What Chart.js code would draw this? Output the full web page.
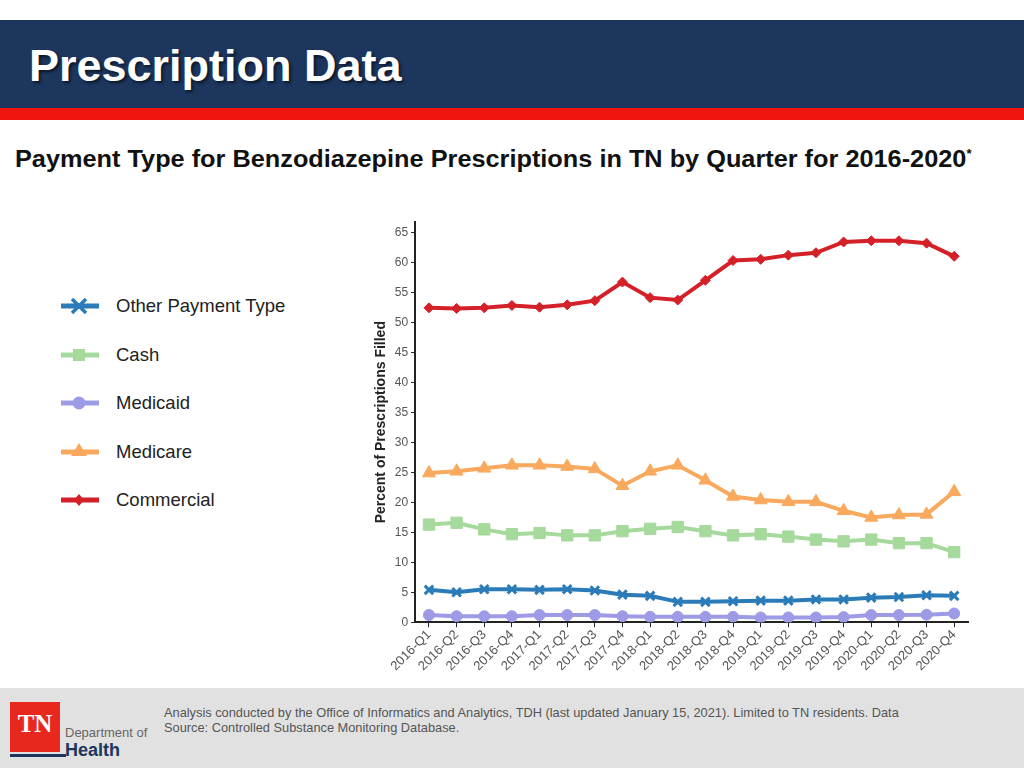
<!DOCTYPE html>
<html>
<head>
<meta charset="utf-8">
<script src="https://cdn.jsdelivr.net/npm/chart.js@4"></script>
<style>
  html, body { margin: 0; padding: 0; }
  body { width: 1024px; height: 768px; position: relative; overflow: hidden; background: #fff; font-family: "Liberation Sans", Arial, sans-serif; }
  .header { position: absolute; left: 0; top: 20px; width: 1024px; height: 88px; background: #1d365e; }
  .header h1 { position: absolute; left: 29px; top: 20px; margin: 0; color: #fff; font-size: 45px; font-weight: bold; text-shadow: 2px 2px 3px rgba(0,0,0,0.6); }
  .stripe { position: absolute; left: 0; top: 108px; width: 1024px; height: 12px; background: #f0150f; }
  .subtitle { position: absolute; left: 15px; top: 146px; margin: 0; font-size: 23px; font-weight: bold; color: #111; white-space: nowrap; transform: scaleX(1.1); transform-origin: left top; }
  .subtitle sup { font-size: 12px; }
  #legend { position: absolute; left: 60px; top: 282px; }
  .legend-item { height: 48.5px; display: flex; align-items: center; }
  .legend-item span { margin-left: 16px; font-size: 18.5px; color: #222; }
  #chartBox { position: absolute; left: 350px; top: 212px; width: 630px; height: 470px; }
  .footer { position: absolute; left: 0; top: 688px; width: 1024px; height: 80px; background: #e1e1e1; }
  .footnote { position: absolute; left: 164px; top: 17px; font-size: 12.8px; line-height: 15px; color: #555; white-space: nowrap; }
  .logo-box { position: absolute; left: 10px; top: 14px; width: 50px; height: 50px; background: #e8271f; color: #fff; font-family: "Liberation Serif", "DejaVu Serif", serif; font-weight: bold; font-size: 25px; text-align: center; line-height: 44px; }
  .logo-line { position: absolute; left: 10px; top: 66px; width: 56px; height: 3px; background: #1d365e; }
  .logo-dept { position: absolute; left: 65px; top: 37px; font-size: 13px; color: #666; }
  .logo-health { position: absolute; left: 65px; top: 52px; font-size: 18px; font-weight: bold; color: #1d365e; }
</style>
</head>
<body>
<div class="header"><h1>Prescription Data</h1></div>
<div class="stripe"></div>
<div class="subtitle">Payment Type for Benzodiazepine Prescriptions in TN by Quarter for 2016-2020<sup>*</sup></div>
<div id="legend"></div>
<div id="chartBox"><canvas id="chart"></canvas></div>
<div class="footer">
  <div class="logo-box">TN</div>
  <div class="logo-line"></div>
  <div class="logo-dept">Department of</div>
  <div class="logo-health">Health</div>
  <div class="footnote">Analysis conducted by the Office of Informatics and Analytics, TDH (last updated January 15, 2021). Limited to TN residents. Data<br>Source: Controlled Substance Monitoring Database.</div>
</div>
<script>
const quarters = ['2016-Q1','2016-Q2','2016-Q3','2016-Q4','2017-Q1','2017-Q2','2017-Q3','2017-Q4',
  '2018-Q1','2018-Q2','2018-Q3','2018-Q4','2019-Q1','2019-Q2','2019-Q3','2019-Q4',
  '2020-Q1','2020-Q2','2020-Q3','2020-Q4'];

const otherPayment = [5.4, 5.0, 5.5, 5.5, 5.4, 5.5, 5.3, 4.6, 4.4, 3.4, 3.4, 3.5, 3.6, 3.6, 3.8, 3.8, 4.1, 4.2, 4.5, 4.4];
const cash         = [16.3, 16.6, 15.5, 14.7, 14.9, 14.5, 14.5, 15.2, 15.6, 15.9, 15.2, 14.5, 14.7, 14.3, 13.8, 13.5, 13.8, 13.2, 13.2, 11.7];
const medicaid     = [1.2, 1.0, 1.0, 1.0, 1.2, 1.2, 1.2, 1.0, 0.9, 0.9, 0.9, 0.9, 0.8, 0.8, 0.8, 0.85, 1.2, 1.2, 1.25, 1.45];
const medicare     = [24.9, 25.2, 25.7, 26.2, 26.2, 26.0, 25.6, 22.8, 25.2, 26.2, 23.7, 21.0, 20.4, 20.1, 20.1, 18.6, 17.5, 17.9, 18.0, 21.8];
const commercial   = [52.5, 52.4, 52.5, 52.9, 52.6, 53.0, 53.7, 56.8, 54.2, 53.8, 57.1, 60.4, 60.6, 61.3, 61.7, 63.5, 63.7, 63.7, 63.3, 61.1];

const yTicks = [0, 5, 10, 15, 20, 25, 30, 35, 40, 45, 50, 55, 60, 65];

const series = [
  { label: 'Other Payment Type', data: otherPayment, color: '#2b7bb9', style: 'crossRot', radius: 6 },
  { label: 'Cash', data: cash, color: '#a6d99c', style: 'rect', radius: 8 },
  { label: 'Medicaid', data: medicaid, color: '#9d9be6', style: 'circle', radius: 5.5 },
  { label: 'Medicare', data: medicare, color: '#f9a95e', style: 'triangle', radius: 7.5 },
  { label: 'Commercial', data: commercial, color: '#d42028', style: 'rectRot', radius: 5 }
];

// legend on the left, built from the series list
function markerSvg(s) {
  const c = s.color;
  let shape = '';
  if (s.style === 'crossRot') shape = `<path d="M12 3 L26 17 M26 3 L12 17" stroke="${c}" stroke-width="3.5"/>`;
  if (s.style === 'rect') shape = `<rect x="13" y="4" width="12" height="12" fill="${c}"/>`;
  if (s.style === 'circle') shape = `<circle cx="19" cy="10" r="6.5" fill="${c}"/>`;
  if (s.style === 'triangle') shape = `<path d="M19 1 L27 14 L11 14 Z" fill="${c}"/>`;
  if (s.style === 'rectRot') shape = `<path d="M19 4 L24 10 L19 16 L14 10 Z" fill="${c}"/>`;
  return `<svg width="40" height="20"><line x1="1" y1="10" x2="39" y2="10" stroke="${c}" stroke-width="5"/>${shape}</svg>`;
}
document.getElementById('legend').innerHTML = series.map(s =>
  `<div class="legend-item">${markerSvg(s)}<span>${s.label}</span></div>`).join('');

const axisColor = '#222';

new Chart(document.getElementById('chart'), {
  type: 'line',
  data: {
    labels: quarters,
    datasets: series.map(s => ({
      label: s.label,
      data: s.data,
      borderColor: s.color,
      backgroundColor: s.color,
      borderWidth: 4,
      pointStyle: s.style,
      pointRadius: s.radius,
      pointBorderWidth: s.style === 'crossRot' ? 3 : 1,
      tension: 0
    }))
  },
  options: {
    responsive: true,
    maintainAspectRatio: false,
    animation: false,
    layout: { padding: { top: 0, right: 12, bottom: 8, left: 23 } },
    plugins: { legend: { display: false }, tooltip: { enabled: false } },
    scales: {
      x: {
        offset: true,
        grid: { drawOnChartArea: false, drawTicks: true, tickLength: 5, color: axisColor, offset: false },
        border: { color: axisColor, width: 2 },
        ticks: {
          autoSkip: false,
          minRotation: 45,
          maxRotation: 45,
          color: '#555',
          font: { family: 'Liberation Sans', size: 13 },
          padding: 0
        }
      },
      y: {
        min: 0,
        max: 66.8,
        afterBuildTicks: axis => { axis.ticks = yTicks.map(v => ({ value: v })); },
        grid: { drawOnChartArea: false, drawTicks: true, tickLength: 4, color: axisColor },
        border: { color: axisColor, width: 2 },
        ticks: { color: '#555', font: { family: 'Liberation Sans', size: 12 }, padding: 3 },
        title: {
          display: true,
          text: 'Percent of Prescriptions Filled',
          color: '#222',
          font: { family: 'Liberation Sans', size: 14, weight: 'bold' },
          padding: { top: 0, bottom: 2 }
        }
      }
    }
  }
});
</script>
</body>
</html>
